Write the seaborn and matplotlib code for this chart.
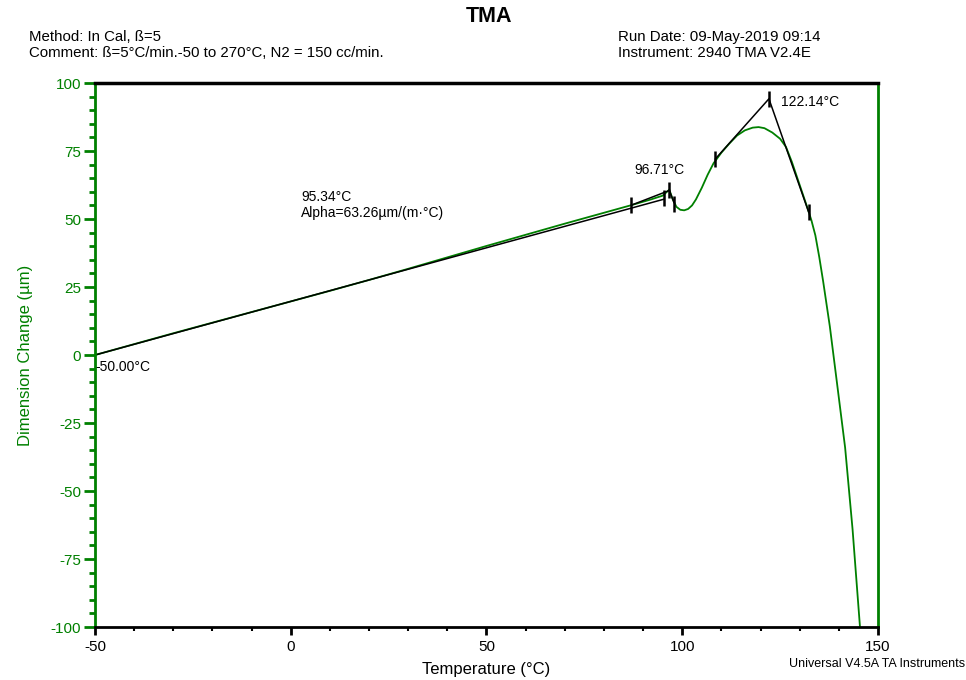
import matplotlib
matplotlib.use("Agg")
import matplotlib.pyplot as plt
from matplotlib.ticker import MultipleLocator
import seaborn as sns
import pandas as pd

# TMA curve (temperature in °C, dimension change in µm)
temperature = [-50, -40, -30, -20, -10, 0, 10, 20, 30, 40, 50, 60, 70, 80, 87,
               92, 95, 96.7, 97.5, 98.5, 99.5, 100.5, 101.5, 102.5, 103.5, 105,
               106.5, 108, 110, 112, 114, 116, 118, 119.5, 121, 123, 125, 126.5,
               128, 130, 132, 133, 134, 135, 136, 137.7, 139.5, 141.6, 143.5,
               145.4, 145.6]
dimension = [0, 4.0, 8.0, 11.9, 15.8, 19.7, 23.6, 27.6, 31.7, 35.9, 40.1, 44.2,
             48.3, 52.3, 55.1, 57.2, 58.6, 60.8, 57.5, 54.5, 53.4, 53.2, 53.7,
             55.0, 57.2, 61.5, 66.3, 70.5, 74.4, 77.7, 80.7, 82.6, 83.6, 83.8,
             83.4, 81.8, 79.5, 76.5, 71.0, 62.5, 54.0, 49.5, 44.0, 36.0, 27.0,
             10.5, -10.0, -34.0, -64.0, -100.0, -104.0]

# analysis construction lines
tangent_low_T = [-50, 95.34]
tangent_low_y = [0, 57.3]
tangent_up_T = [87, 96.71, 97.9]
tangent_up_y = [55.1, 60.5, 56.0]
peak_T = [108.4, 122.14, 132.3]
peak_y = [72.0, 94.2, 52.5]

# vertical cursor marks
mark_T = [87, 95.34, 96.71, 97.9, 108.4, 122.14, 132.3]
mark_y = [55.1, 57.8, 60.5, 55.5, 72.0, 94.2, 52.5]

green = "#008000"

sns.set_style("ticks")
plt.rcParams["font.family"] = ["Liberation Sans", "DejaVu Sans"]
plt.rcParams["axes.unicode_minus"] = False
plt.rcParams["text.color"] = "black"
plt.rcParams["axes.labelcolor"] = "black"
plt.rcParams["xtick.color"] = "black"

fig = plt.figure(figsize=(9.66, 6.8), dpi=100)
ax = fig.add_axes([0.0983, 0.0779, 0.8106, 0.8])

df = pd.DataFrame({"T": temperature, "dL": dimension})
sns.lineplot(data=df, x="T", y="dL", sort=False, estimator=None,
             color=green, lw=1.3, ax=ax)

ax.plot(tangent_low_T, tangent_low_y, color="black", lw=1.1)
ax.plot(tangent_up_T, tangent_up_y, color="black", lw=1.1)
ax.plot(peak_T, peak_y, color="black", lw=1.1)
ax.plot(mark_T, mark_y, ls="none", marker="|", ms=11, mew=1.8, color="black")

ax.text(-50, -4.5, "-50.00°C", fontsize=10, va="center", ha="left")
ax.text(2.6, 58.1, "95.34°C", fontsize=10, va="center", ha="left")
ax.text(2.6, 52.2, "Alpha=63.26µm/(m·°C)", fontsize=10, va="center", ha="left")
ax.text(87.7, 68.0, "96.71°C", fontsize=10, va="center", ha="left")
ax.text(125.2, 93.0, "122.14°C", fontsize=10, va="center", ha="left")

ax.set_xlim(-50, 150)
ax.set_ylim(-100, 100)
ax.xaxis.set_major_locator(MultipleLocator(50))
ax.xaxis.set_minor_locator(MultipleLocator(10))
ax.yaxis.set_major_locator(MultipleLocator(25))
ax.yaxis.set_minor_locator(MultipleLocator(5))

ax.tick_params(axis="x", which="major", bottom=True, direction="out", length=6,
               width=2, color="black", labelcolor="black", labelsize=11, pad=3)
ax.tick_params(axis="x", which="minor", bottom=True, direction="out", length=3,
               width=1.5, color="black")
ax.tick_params(axis="y", which="major", left=True, direction="out", length=8,
               width=2, color=green, labelcolor=green, labelsize=11, pad=2)
ax.tick_params(axis="y", which="minor", left=True, direction="out", length=4,
               width=2, color=green)

for side, col, lw in [("left", green, 2), ("right", green, 2),
                      ("top", "black", 2.5), ("bottom", "black", 2)]:
    ax.spines[side].set_color(col)
    ax.spines[side].set_linewidth(lw)
    ax.spines[side].set_visible(True)

ax.set_xlabel("Temperature (°C)", fontsize=12, labelpad=6)
ax.set_ylabel("Dimension Change (µm)", fontsize=12, color=green, labelpad=13)

fig.text(0.506, 0.975, "TMA", fontsize=15.5, fontweight="bold", ha="center", va="center")
fig.text(0.030, 0.946, "Method: In Cal, ß=5", fontsize=10.8, ha="left", va="center")
fig.text(0.030, 0.922, "Comment: ß=5°C/min.-50 to 270°C, N2 = 150 cc/min.",
         fontsize=10.8, ha="left", va="center")
fig.text(0.640, 0.946, "Run Date: 09-May-2019 09:14", fontsize=10.8, ha="left", va="center")
fig.text(0.640, 0.922, "Instrument: 2940 TMA V2.4E", fontsize=10.8, ha="left", va="center")
fig.text(0.999, 0.024, "Universal V4.5A TA Instruments", fontsize=9, ha="right", va="center")

fig.savefig("out.png", dpi=100)
